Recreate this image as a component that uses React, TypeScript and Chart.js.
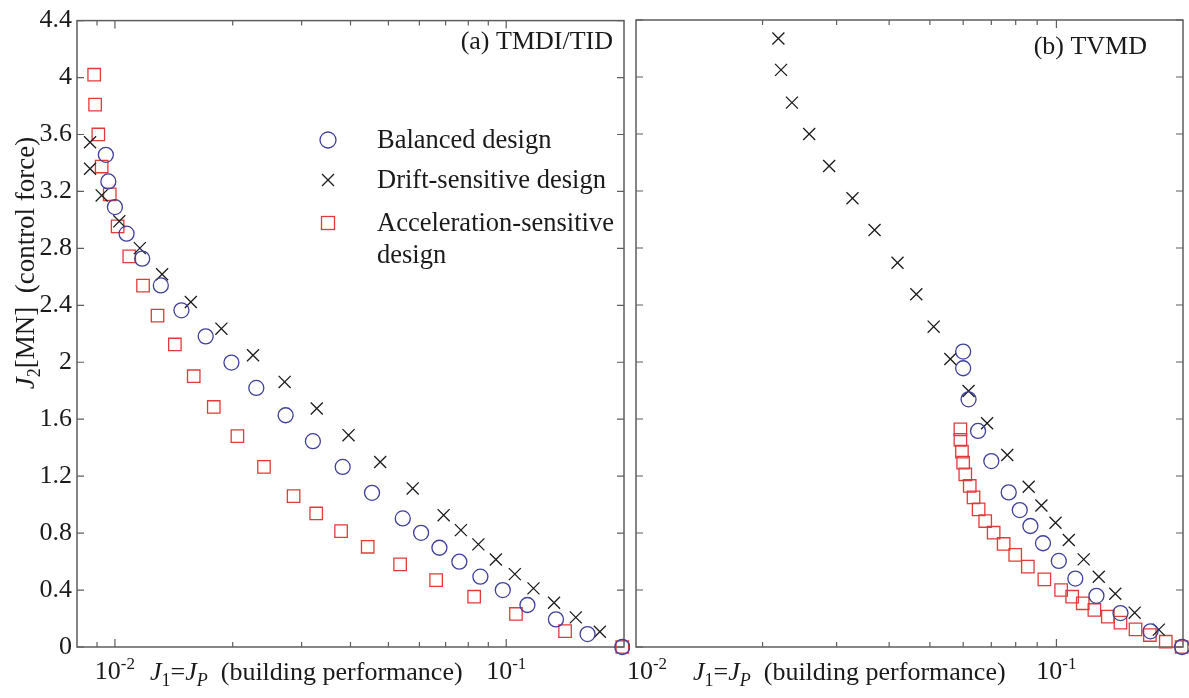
import React, { useEffect, useRef } from 'react';
import { Chart, registerables } from 'chart.js';

Chart.register(...registerables);

// ---- values ----
// (a) TMDI/TID
const balancedA_J1 = [0.00948, 0.00962, 0.0100, 0.01071, 0.01174, 0.0131, 0.01479, 0.01706, 0.01985, 0.02298, 0.02731, 0.03206, 0.0382, 0.0454, 0.0544, 0.0606, 0.0675, 0.0759, 0.0859, 0.098, 0.1133, 0.134, 0.1614, 0.198];
const balancedA_J2 = [3.457, 3.27, 3.09, 2.903, 2.728, 2.54, 2.365, 2.182, 1.998, 1.82, 1.628, 1.446, 1.265, 1.083, 0.903, 0.802, 0.697, 0.599, 0.494, 0.40, 0.295, 0.194, 0.091, 0.0];
const driftA_J1 = [0.00864, 0.00864, 0.00925, 0.01026, 0.01158, 0.0132, 0.01563, 0.01871, 0.02254, 0.02715, 0.0328, 0.03954, 0.04764, 0.05768, 0.0692, 0.0766, 0.0849, 0.0941, 0.1052, 0.1174, 0.1325, 0.1506, 0.1735];
const driftA_J2 = [3.546, 3.359, 3.172, 2.99, 2.802, 2.618, 2.423, 2.236, 2.049, 1.862, 1.675, 1.488, 1.30, 1.114, 0.926, 0.821, 0.721, 0.615, 0.512, 0.412, 0.311, 0.208, 0.107];
const accelA_J1 = [0.00885, 0.0089, 0.00907, 0.00925, 0.0097, 0.01016, 0.01088, 0.0118, 0.01285, 0.01423, 0.0159, 0.01789, 0.02056, 0.02404, 0.02862, 0.03269, 0.03784, 0.04426, 0.05356, 0.0662, 0.0828, 0.1059, 0.1414, 0.198];
const accelA_J2 = [4.02, 3.81, 3.60, 3.375, 3.18, 2.955, 2.744, 2.538, 2.328, 2.125, 1.902, 1.686, 1.481, 1.265, 1.06, 0.938, 0.814, 0.704, 0.58, 0.47, 0.353, 0.232, 0.112, 0.0];

// (b) TVMD
const balancedB_J1 = [0.0600, 0.0600, 0.0618, 0.0651, 0.070, 0.077, 0.0818, 0.0867, 0.0929, 0.1013, 0.1109, 0.1245, 0.142, 0.1674, 0.199];
const balancedB_J2 = [2.073, 1.956, 1.738, 1.516, 1.305, 1.085, 0.961, 0.849, 0.728, 0.604, 0.48, 0.359, 0.238, 0.11, 0.0];
const driftB_J1 = [0.02181, 0.02213, 0.02349, 0.02582, 0.0288, 0.03273, 0.03693, 0.04188, 0.04642, 0.05105, 0.05593, 0.0618, 0.0684, 0.0764, 0.0859, 0.0921, 0.0995, 0.107, 0.1161, 0.1261, 0.138, 0.1535, 0.1752];
const driftB_J2 = [4.27, 4.05, 3.82, 3.60, 3.375, 3.149, 2.926, 2.697, 2.475, 2.248, 2.021, 1.796, 1.57, 1.347, 1.125, 0.993, 0.872, 0.751, 0.615, 0.493, 0.374, 0.241, 0.122];
const accelB_J1 = [0.0591, 0.0591, 0.0596, 0.0600, 0.0607, 0.0622, 0.0635, 0.0653, 0.0677, 0.0709, 0.0749, 0.0798, 0.0855, 0.0936, 0.1026, 0.109, 0.1155, 0.1231, 0.1325, 0.142, 0.1542, 0.1668, 0.182, 0.1985];
const accelB_J2 = [1.528, 1.453, 1.371, 1.294, 1.212, 1.13, 1.05, 0.966, 0.884, 0.802, 0.723, 0.646, 0.564, 0.475, 0.40, 0.353, 0.307, 0.26, 0.213, 0.171, 0.124, 0.084, 0.037, 0.0];

// ---- axes ----
const yTicks = [0, 0.4, 0.8, 1.2, 1.6, 2, 2.4, 2.8, 3.2, 3.6, 4, 4.4];
const yTickLabels = ['0', '0.4', '0.8', '1.2', '1.6', '2', '2.4', '2.8', '3.2', '3.6', '4', '4.4'];
const xMajorTicks = [0.01, 0.1];
const xMajorExponents = ['-2', '-1'];
const xMinorTicks = [0.008, 0.009, 0.02, 0.03, 0.04, 0.05, 0.06, 0.07, 0.08, 0.09, 0.2];

const legendLabels = [['Balanced design'], ['Drift-sensitive design'], ['Acceleration-sensitive', 'design']];

const SERIF = '"Liberation Serif", "Times New Roman", serif';
const BLUE = '#3f3f9c';
const RED = '#e23a3a';
const BLACK = '#1c1c1c';
const TEXT = '#1a1a1a';

type Seg = { t: string; italic?: boolean; sub?: boolean };

// draws a run of text pieces (italic / subscript) starting at x
function drawRich(ctx: CanvasRenderingContext2D, segs: Seg[], x: number, y: number, size: number, align: 'left' | 'center' = 'left') {
  const fontOf = (s: Seg) => `${s.italic ? 'italic ' : ''}${s.sub ? Math.round(size * 0.68) : size}px ${SERIF}`;
  let total = 0;
  for (const s of segs) { ctx.font = fontOf(s); total += ctx.measureText(s.t).width; }
  let cx = align === 'center' ? x - total / 2 : x;
  ctx.textAlign = 'left';
  ctx.textBaseline = 'alphabetic';
  for (const s of segs) {
    ctx.font = fontOf(s);
    ctx.fillText(s.t, cx, s.sub ? y + size * 0.22 : y);
    cx += ctx.measureText(s.t).width;
  }
}

function drawPow(ctx: CanvasRenderingContext2D, x: number, y: number, exp: string) {
  ctx.font = `26px ${SERIF}`;
  const w10 = ctx.measureText('10').width;
  ctx.font = `17px ${SERIF}`;
  const we = ctx.measureText(exp).width;
  const start = x - (w10 + we) / 2;
  ctx.textAlign = 'left';
  ctx.textBaseline = 'alphabetic';
  ctx.font = `26px ${SERIF}`;
  ctx.fillText('10', start, y);
  ctx.font = `17px ${SERIF}`;
  ctx.fillText(exp, start + w10, y - 10);
}

// box around the plot with inward tick marks on all four sides
const framePlugin = {
  id: 'frame',
  beforeDatasetsDraw(chart: any) {
    const { ctx, chartArea: a, scales } = chart;
    const sx = scales.x, sy = scales.y;
    ctx.save();
    ctx.strokeStyle = '#5e5e5e';
    ctx.lineWidth = 1.2;
    ctx.beginPath();
    for (const v of yTicks) {
      const py = sy.getPixelForValue(v);
      ctx.moveTo(a.left, py); ctx.lineTo(a.left + 7, py);
      ctx.moveTo(a.right, py); ctx.lineTo(a.right - 7, py);
    }
    const xt = (vals: number[], len: number) => {
      for (const v of vals) {
        if (v < sx.min * 1.0001 || v > sx.max * 0.9999) continue;
        const px = sx.getPixelForValue(v);
        ctx.moveTo(px, a.bottom); ctx.lineTo(px, a.bottom - len);
        ctx.moveTo(px, a.top); ctx.lineTo(px, a.top + len);
      }
    };
    xt(xMinorTicks, 5);
    xt(xMajorTicks, 8);
    ctx.stroke();
    ctx.lineWidth = 1.5;
    ctx.strokeRect(a.left, a.top, a.right - a.left, a.bottom - a.top);
    ctx.restore();
  },
};

const textPlugin = {
  id: 'panelText',
  afterDraw(chart: any, _args: any, opts: any) {
    const { ctx, chartArea: a, scales } = chart;
    ctx.save();
    ctx.fillStyle = TEXT;

    xMajorTicks.forEach((v, i) => {
      let px = scales.x.getPixelForValue(v);
      if (Math.abs(px - a.left) < 2) px += opts.edgeTickShift;
      drawPow(ctx, px, 679, xMajorExponents[i]);
    });

    drawRich(ctx, [
      { t: 'J', italic: true }, { t: '1', sub: true }, { t: '=' },
      { t: 'J', italic: true }, { t: 'P', italic: true, sub: true },
      { t: '  (building performance)' },
    ], a.left + opts.titleOffset, 680, 26);

    ctx.font = `26px ${SERIF}`;
    ctx.textAlign = 'right';
    ctx.textBaseline = 'alphabetic';
    ctx.fillText(opts.panelLabel, a.right - opts.panelLabelInset, a.top + opts.panelLabelDrop);

    if (opts.showYTitle) {
      ctx.save();
      ctx.translate(34, 263);
      ctx.rotate(-Math.PI / 2);
      drawRich(ctx, [
        { t: 'J', italic: true }, { t: '2', sub: true }, { t: '[MN]  (control force)' },
      ], 0, 0, 27, 'center');
      ctx.restore();
    }

    if (opts.showLegend) {
      const mx = 328;
      const rows = [140, 180, 223];
      const lineGap = 32;
      ctx.lineWidth = 1.3;
      // circle
      ctx.strokeStyle = BLUE;
      ctx.beginPath(); ctx.arc(mx, rows[0], 8, 0, Math.PI * 2); ctx.stroke();
      // cross
      ctx.strokeStyle = BLACK;
      ctx.beginPath();
      ctx.moveTo(mx - 6, rows[1] - 6); ctx.lineTo(mx + 6, rows[1] + 6);
      ctx.moveTo(mx + 6, rows[1] - 6); ctx.lineTo(mx - 6, rows[1] + 6);
      ctx.stroke();
      // square
      ctx.strokeStyle = RED;
      ctx.strokeRect(mx - 6.5, rows[2] - 6.5, 13, 13);

      ctx.fillStyle = TEXT;
      ctx.font = `26.5px ${SERIF}`;
      ctx.textAlign = 'left';
      legendLabels.forEach((lines, i) => {
        lines.forEach((line, j) => ctx.fillText(line, 377, rows[i] + 8 + j * lineGap));
      });
    }
    ctx.restore();
  },
};

const pts = (xs: number[], ys: number[]) => xs.map((x, i) => ({ x, y: ys[i] }));

interface PanelProps {
  xMin: number;
  left: number;
  width: number;
  yAxisWidth: number;
  showYLabels: boolean;
  text: any;
  balanced: [number[], number[]];
  drift: [number[], number[]];
  accel: [number[], number[]];
}

function Panel({ xMin, left, width, yAxisWidth, showYLabels, text, balanced, drift, accel }: PanelProps) {
  const chartRef = useRef<HTMLCanvasElement>(null);
  const chartInstance = useRef<Chart | null>(null);

  useEffect(() => {
    if (!chartRef.current) return;
    if (chartInstance.current) chartInstance.current.destroy();

    chartInstance.current = new Chart(chartRef.current, {
      type: 'scatter',
      data: {
        datasets: [
          {
            label: 'Balanced design',
            data: pts(balanced[0], balanced[1]),
            pointStyle: 'circle',
            pointRadius: 7.5,
            borderColor: BLUE,
            backgroundColor: 'rgba(0,0,0,0)',
            borderWidth: 1.3,
            clip: false,
          } as any,
          {
            label: 'Drift-sensitive design',
            data: pts(drift[0], drift[1]),
            pointStyle: 'crossRot',
            pointRadius: 8.5,
            borderColor: BLACK,
            borderWidth: 1.3,
            clip: false,
          } as any,
          {
            label: 'Acceleration-sensitive design',
            data: pts(accel[0], accel[1]),
            pointStyle: 'rect',
            pointRadius: 8.8,
            borderColor: RED,
            backgroundColor: 'rgba(0,0,0,0)',
            borderWidth: 1.3,
            clip: false,
          } as any,
        ],
      },
      options: {
        animation: false,
        responsive: true,
        maintainAspectRatio: false,
        events: [],
        layout: { autoPadding: false, padding: { top: 20, right: 6, left: 0, bottom: 0 } },
        plugins: {
          legend: { display: false },
          tooltip: { enabled: false },
          panelText: text,
        } as any,
        scales: {
          x: {
            type: 'logarithmic',
            min: xMin,
            max: 0.2,
            grid: { display: false, drawTicks: false },
            border: { display: false },
            ticks: { display: false },
            afterFit: (s: any) => { s.height = 51; },
          },
          y: {
            type: 'linear',
            min: 0,
            max: 4.4,
            grid: { display: false, drawTicks: false },
            border: { display: false },
            afterBuildTicks: (s: any) => { s.ticks = yTicks.map((value) => ({ value })); },
            ticks: {
              display: showYLabels,
              padding: 5,
              color: TEXT,
              font: { family: SERIF, size: 26 },
              callback: (_v: any, i: number) => yTickLabels[i],
            },
            afterFit: (s: any) => { s.width = yAxisWidth; },
          },
        },
      },
      plugins: [framePlugin, textPlugin],
    });

    return () => {
      if (chartInstance.current) {
        chartInstance.current.destroy();
        chartInstance.current = null;
      }
    };
  }, []);

  return (
    <div style={{ position: 'absolute', left, top: 0, width, height: 698 }}>
      <canvas ref={chartRef} />
    </div>
  );
}

export default function App() {
  return (
    <div style={{ position: 'absolute', left: 0, top: 0, width: 1189, height: 698, background: '#ffffff' }}>
      <Panel
        xMin={0.008}
        left={0}
        width={630}
        yAxisWidth={77}
        showYLabels={true}
        text={{ panelLabel: '(a) TMDI/TID', panelLabelInset: 11, panelLabelDrop: 28, titleOffset: 73, edgeTickShift: 0, showYTitle: true, showLegend: true }}
        balanced={[balancedA_J1, balancedA_J2]}
        drift={[driftA_J1, driftA_J2]}
        accel={[accelA_J1, accelA_J2]}
      />
      <Panel
        xMin={0.01}
        left={620}
        width={569}
        yAxisWidth={16}
        showYLabels={false}
        text={{ panelLabel: '(b) TVMD', panelLabelInset: 36, panelLabelDrop: 34, titleOffset: 57, edgeTickShift: 11, showYTitle: false, showLegend: false }}
        balanced={[balancedB_J1, balancedB_J2]}
        drift={[driftB_J1, driftB_J2]}
        accel={[accelB_J1, accelB_J2]}
      />
    </div>
  );
}
